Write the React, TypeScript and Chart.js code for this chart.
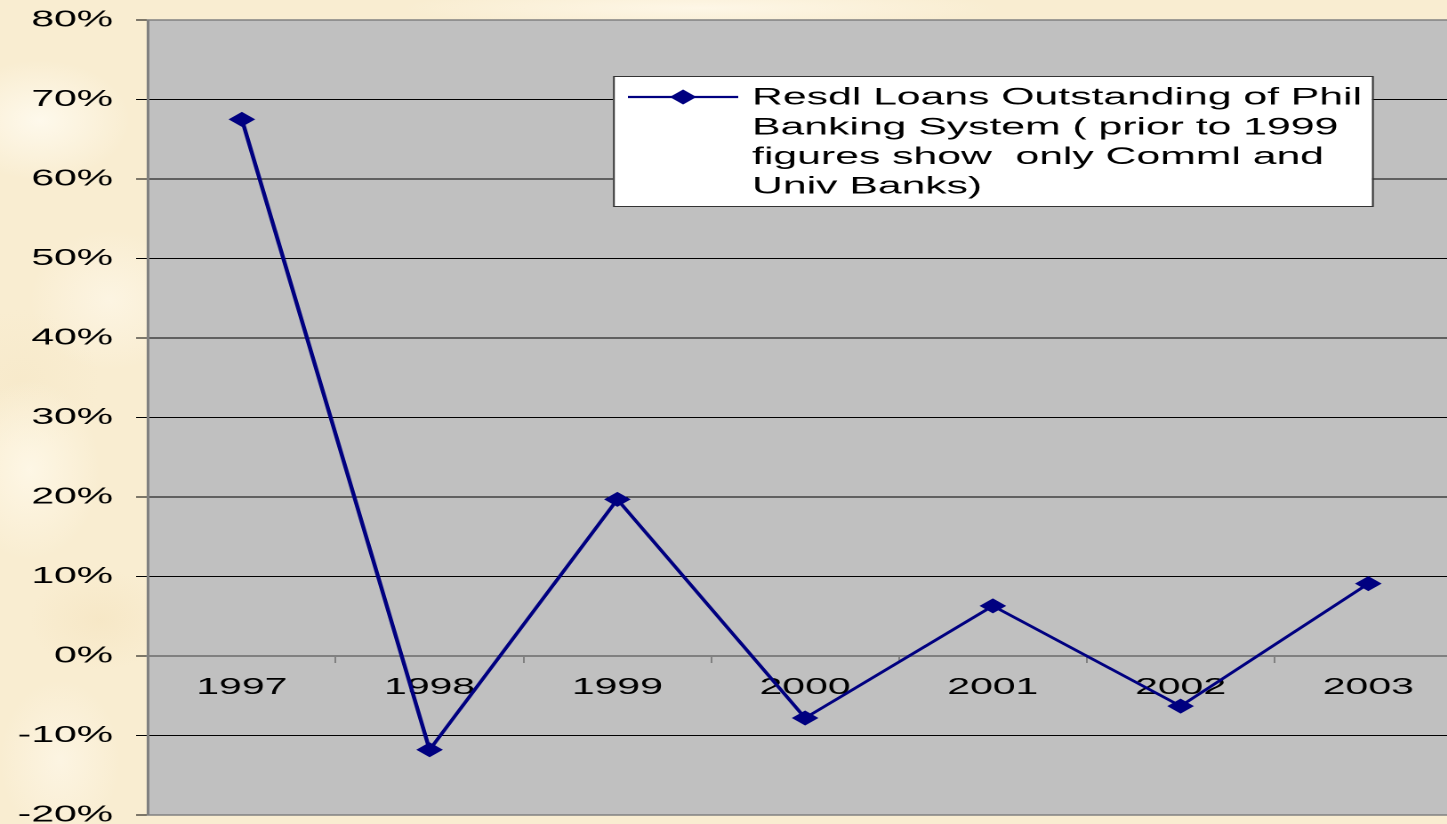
import { useEffect, useRef } from "react";
import { Chart, registerables } from "chart.js";

Chart.register(...registerables);

// ---- data ----
const categories = ["1997", "1998", "1999", "2000", "2001", "2002", "2003"];
const growthPct = [67.5, -11.8, 19.7, -7.8, 6.3, -6.3, 9.1];
const yMin = -20;
const yMax = 80;
const yStep = 10;
const seriesName =
  "Resdl Loans Outstanding of Phil Banking System ( prior to 1999 figures show only Comml and Univ Banks)";
const legendLines = [
  "Resdl Loans Outstanding of Phil",
  "Banking System ( prior to 1999",
  "figures show  only Comml and",
  "Univ Banks)",
];

// ---- layout (the reference is horizontally stretched) ----
const LOGICAL_W = 832;
const CSS_W = 1480;
const H = 840;
const FONT = "'Liberation Sans', Arial, sans-serif";
const NAVY = "#000080";
const PLOT_BG = "#C0C0C0";
const AXIS_GRAY = "#808080";

const plotBgPlugin = {
  id: "plotBg",
  beforeDraw(chart: any) {
    const { ctx, chartArea: a } = chart;
    ctx.save();
    ctx.fillStyle = PLOT_BG;
    ctx.fillRect(a.left, a.top, a.right - a.left, a.bottom - a.top);
    ctx.restore();
  },
  beforeDatasetsDraw(chart: any) {
    const { ctx, chartArea: a } = chart;
    ctx.save();
    ctx.strokeStyle = AXIS_GRAY;
    ctx.lineWidth = 1.5;
    ctx.strokeRect(a.left, a.top, a.right - a.left, a.bottom - a.top);
    ctx.restore();
  },
};

const legendPlugin = {
  id: "boxLegend",
  afterDraw(chart: any) {
    const { ctx } = chart;
    const bx = 344.6, by = 76, bw = 426.7, bh = 130;
    ctx.save();
    ctx.fillStyle = "#FFFFFF";
    ctx.fillRect(bx, by, bw, bh);
    ctx.strokeStyle = "#333333";
    ctx.lineWidth = 1;
    ctx.strokeRect(bx + 0.5, by + 0.5, bw, bh);
    // sample line + diamond
    const ly = 97;
    ctx.strokeStyle = NAVY;
    ctx.lineWidth = 2.2;
    ctx.beginPath();
    ctx.moveTo(353, ly);
    ctx.lineTo(415, ly);
    ctx.stroke();
    ctx.fillStyle = NAVY;
    ctx.beginPath();
    ctx.moveTo(384, ly - 7.5);
    ctx.lineTo(391.5, ly);
    ctx.lineTo(384, ly + 7.5);
    ctx.lineTo(376.5, ly);
    ctx.closePath();
    ctx.fill();
    // text
    ctx.fillStyle = "#000";
    ctx.font = `24px ${FONT}`;
    ctx.textBaseline = "middle";
    ctx.textAlign = "left";
    legendLines.forEach((t, i) => ctx.fillText(t, 422.8, 98 + i * 29.7));
    ctx.restore();
  },
};

export default function App() {
  const ref = useRef<HTMLCanvasElement>(null);

  useEffect(() => {
    const canvas = ref.current!;
    canvas.width = LOGICAL_W;
    canvas.height = H;
    canvas.style.width = CSS_W + "px";
    canvas.style.height = H + "px";

    const edge = (v: number) => v === 0 || v === yMin || v === yMax;

    const chart = new Chart(canvas, {
      type: "line",
      data: {
        labels: categories,
        datasets: [
          {
            label: seriesName,
            data: growthPct,
            borderColor: NAVY,
            backgroundColor: NAVY,
            borderWidth: 2.3,
            pointStyle: "rectRot",
            pointRadius: 7.5,
            pointBorderWidth: 0,
            pointBackgroundColor: NAVY,
            tension: 0,
            fill: false,
          },
        ],
      },
      options: {
        animation: false,
        responsive: false,
        devicePixelRatio: 2,
        events: [],
        layout: { padding: { left: 0, right: 10, top: 20, bottom: 25 } },
        plugins: {
          legend: { display: false },
          tooltip: { enabled: false },
        },
        scales: {
          x: {
            type: "category",
            position: { y: 0 } as any,
            offset: true,
            grid: {
              offset: true,
              drawOnChartArea: false,
              drawTicks: true,
              tickLength: 6,
              color: AXIS_GRAY,
              lineWidth: 1,
            },
            border: { color: AXIS_GRAY, width: 2 },
            ticks: {
              font: { family: FONT, size: 23 },
              color: "#000",
              padding: 12,
              maxRotation: 0,
              autoSkip: false,
            },
          },
          y: {
            type: "linear",
            min: yMin,
            max: yMax,
            afterFit(scale: any) {
              scale.width = 83.2;
              scale.paddingTop = 0;
              scale.paddingBottom = 0;
            },
            grid: {
              color: (c: any) => (c.tick && edge(c.tick.value) ? "rgba(0,0,0,0)" : "#000"),
              tickColor: "#000",
              tickLength: 6.7,
              lineWidth: 1,
            },
            border: { color: AXIS_GRAY, width: 1.5 },
            ticks: {
              stepSize: yStep,
              font: { family: FONT, size: 23 },
              color: "#000",
              padding: 12.9,
              callback: (v: any) => `${v}%`,
            },
          },
        },
      },
      plugins: [plotBgPlugin, legendPlugin],
    });
    return () => chart.destroy();
  }, []);

  return (
    <div
      style={{
        position: "fixed",
        left: 0,
        top: 0,
        width: "100vw",
        height: "100vh",
        overflow: "hidden",
        backgroundColor: "#F9EDD1",
        backgroundImage: [
          "radial-gradient(ellipse 90px 60px at 40px 120px, rgba(255,251,240,0.85), rgba(255,251,240,0) 100%)",
          "radial-gradient(ellipse 80px 70px at 110px 300px, rgba(253,246,230,0.8), rgba(253,246,230,0) 100%)",
          "radial-gradient(ellipse 70px 90px at 30px 470px, rgba(255,249,234,0.8), rgba(255,249,234,0) 100%)",
          "radial-gradient(ellipse 70px 50px at 100px 620px, rgba(244,226,188,0.5), rgba(244,226,188,0) 100%)",
          "radial-gradient(ellipse 60px 80px at 60px 760px, rgba(253,246,230,0.8), rgba(253,246,230,0) 100%)",
          "radial-gradient(ellipse 300px 20px at 700px 8px, rgba(255,249,236,0.8), rgba(255,249,236,0) 100%)",
          "radial-gradient(ellipse 80px 70px at 20px 380px, rgba(245,230,196,0.45), rgba(245,230,196,0) 100%)",
        ].join(","),
      }}
    >
      <canvas ref={ref} />
    </div>
  );
}
